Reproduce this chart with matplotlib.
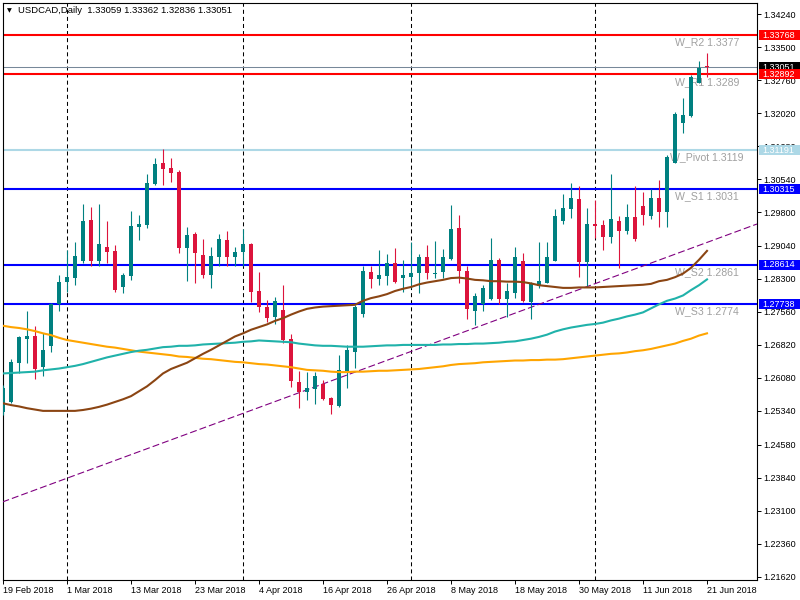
import matplotlib
matplotlib.use('Agg')
import matplotlib.pyplot as plt
import matplotlib.transforms as mtransforms
from matplotlib.patches import Rectangle
import numpy as np
import pandas as pd

plt.rcParams['font.family'] = ['Liberation Sans', 'DejaVu Sans']
plt.rcParams['lines.scale_dashes'] = False

# ---------------- data ----------------
chart_title = "USDCAD,Daily  1.33059 1.33362 1.32836 1.33051"
start_date = '2018-02-19'

opens = [1.2532, 1.2555, 1.2642, 1.2696, 1.2702, 1.2633, 1.2680, 1.2773, 1.2824, 1.2833,
         1.2870, 1.2962, 1.2870, 1.2902, 1.2893, 1.2813, 1.2837, 1.2947, 1.2952, 1.3044,
         1.3090, 1.3079, 1.3070, 1.2900, 1.2931, 1.2884, 1.2840, 1.2880, 1.2917, 1.2879,
         1.2891, 1.2908, 1.2804, 1.2767, 1.2744, 1.2760, 1.2695, 1.2599, 1.2577, 1.2582,
         1.2594, 1.2563, 1.2546, 1.2624, 1.2667, 1.2751, 1.2846, 1.2831, 1.2837, 1.2865,
         1.2833, 1.2835, 1.2843, 1.2879, 1.2841, 1.2845, 1.2875, 1.2944, 1.2849, 1.2759,
         1.2774, 1.2785, 1.2873, 1.2786, 1.2799, 1.2870, 1.2779, 1.2815, 1.2822, 1.2871,
         1.2959, 1.2987, 1.3009, 1.2869, 1.2953, 1.2951, 1.2925, 1.2960, 1.2938, 1.2970,
         1.2994, 1.2971, 1.3011, 1.2981, 1.3091, 1.3179, 1.3196, 1.3270, 1.33059]
highs = [1.2592, 1.2650, 1.2702, 1.2758, 1.2724, 1.2709, 1.2776, 1.2839, 1.2895, 1.2913,
         1.2998, 1.2991, 1.2998, 1.2960, 1.2906, 1.2843, 1.2983, 1.2974, 1.3066, 1.3101,
         1.3122, 1.3101, 1.3075, 1.2947, 1.2935, 1.2920, 1.2902, 1.2931, 1.2938, 1.2902,
         1.2942, 1.2910, 1.2846, 1.2783, 1.2790, 1.2816, 1.2707, 1.2624, 1.2621, 1.2621,
         1.2603, 1.2566, 1.2659, 1.2682, 1.2772, 1.2858, 1.2860, 1.2895, 1.2885, 1.2899,
         1.2872, 1.2913, 1.2886, 1.2906, 1.2915, 1.2897, 1.2996, 1.2974, 1.2860, 1.2799,
         1.2817, 1.2922, 1.2876, 1.2821, 1.2902, 1.2889, 1.2824, 1.2913, 1.2913, 1.2986,
         1.3021, 1.3045, 1.3039, 1.2990, 1.3007, 1.2962, 1.3066, 1.2971, 1.2998, 1.3039,
         1.3026, 1.3032, 1.3051, 1.3108, 1.3205, 1.3237, 1.3288, 1.3319, 1.33362]
lows = [1.2525, 1.2551, 1.2620, 1.2642, 1.2606, 1.2613, 1.2665, 1.2759, 1.2801, 1.2816,
        1.2865, 1.2860, 1.2860, 1.2865, 1.2801, 1.2799, 1.2827, 1.2917, 1.2944, 1.3041,
        1.3041, 1.3048, 1.2888, 1.2825, 1.2822, 1.2833, 1.2810, 1.2860, 1.2860, 1.2858,
        1.2858, 1.2779, 1.2755, 1.2734, 1.2729, 1.2686, 1.2588, 1.2541, 1.2558, 1.2549,
        1.2558, 1.2526, 1.2543, 1.2585, 1.2631, 1.2744, 1.2810, 1.2816, 1.2816, 1.2822,
        1.2801, 1.2809, 1.2799, 1.2831, 1.2833, 1.2833, 1.2873, 1.2822, 1.2740, 1.2727,
        1.2757, 1.2783, 1.2774, 1.2745, 1.2788, 1.2779, 1.2740, 1.2809, 1.2821, 1.2870,
        1.2953, 1.2966, 1.2834, 1.2814, 1.2921, 1.2895, 1.2911, 1.2854, 1.2931, 1.2915,
        1.2951, 1.2965, 1.2947, 1.2947, 1.3091, 1.3157, 1.3194, 1.3269, 1.32836]
closes = [1.2585, 1.2643, 1.2700, 1.2702, 1.2628, 1.2671, 1.2774, 1.2823, 1.2834, 1.2882,
          1.2960, 1.2870, 1.2908, 1.2891, 1.2805, 1.2839, 1.2949, 1.2953, 1.3045, 1.3088,
          1.3077, 1.3068, 1.2900, 1.2929, 1.2888, 1.2840, 1.2882, 1.2920, 1.2879, 1.2891,
          1.2908, 1.2801, 1.2766, 1.2742, 1.2781, 1.2693, 1.2600, 1.2576, 1.2586, 1.2612,
          1.2561, 1.2548, 1.2626, 1.2671, 1.2766, 1.2849, 1.2829, 1.2838, 1.2865, 1.2824,
          1.2838, 1.2843, 1.2879, 1.2843, 1.2844, 1.2879, 1.2942, 1.2849, 1.2763, 1.2792,
          1.2810, 1.2873, 1.2786, 1.2803, 1.2879, 1.2781, 1.2819, 1.2825, 1.2879, 1.2971,
          1.2990, 1.3012, 1.2869, 1.2953, 1.2949, 1.2925, 1.2965, 1.2938, 1.2970, 1.2919,
          1.2974, 1.3012, 1.2981, 1.3103, 1.3200, 1.3198, 1.3284, 1.3303, 1.33051]

ma_brown = [1.2551, 1.2547, 1.2544, 1.2540, 1.2537, 1.2534, 1.2534, 1.2534, 1.2534, 1.2534,
            1.2536, 1.2539, 1.2543, 1.2548, 1.2554, 1.2560, 1.2567, 1.2578, 1.2589, 1.2603,
            1.2618, 1.2628, 1.2635, 1.2642, 1.2652, 1.2662, 1.2671, 1.2681, 1.2691, 1.2701,
            1.2708, 1.2716, 1.2722, 1.2728, 1.2736, 1.2742, 1.2750, 1.2757, 1.2763, 1.2766,
            1.2768, 1.2769, 1.2770, 1.2771, 1.2772, 1.2781, 1.2787, 1.2791, 1.2796, 1.2803,
            1.2808, 1.2812, 1.2818, 1.2822, 1.2825, 1.2828, 1.2832, 1.2833, 1.2831, 1.2828,
            1.2827, 1.2825, 1.2825, 1.2824, 1.2824, 1.2823, 1.2820, 1.2816, 1.2814, 1.2812,
            1.2810, 1.2810, 1.2811, 1.2811, 1.2811, 1.2812, 1.2813, 1.2814, 1.2815, 1.2816,
            1.2817, 1.2819, 1.2825, 1.2828, 1.2834, 1.2842, 1.2855, 1.2873, 1.2893]
ma_teal = [1.2618, 1.2619, 1.2620, 1.2621, 1.2622, 1.2625, 1.2627, 1.2629, 1.2632, 1.2635,
           1.2639, 1.2644, 1.2649, 1.2654, 1.2658, 1.2662, 1.2666, 1.2669, 1.2671, 1.2674,
           1.2677, 1.2678, 1.2680, 1.2680, 1.2681, 1.2683, 1.2684, 1.2685, 1.2686, 1.2687,
           1.2689, 1.2690, 1.2692, 1.2691, 1.2690, 1.2689, 1.2688, 1.2685, 1.2683, 1.2681,
           1.2680, 1.2680, 1.2679, 1.2678, 1.2678, 1.2678, 1.2679, 1.2680, 1.2681, 1.2681,
           1.2682, 1.2682, 1.2682, 1.2682, 1.2682, 1.2683, 1.2683, 1.2684, 1.2684, 1.2685,
           1.2685, 1.2686, 1.2687, 1.2689, 1.2690, 1.2693, 1.2696, 1.2700, 1.2705, 1.2712,
           1.2717, 1.2721, 1.2724, 1.2727, 1.2729, 1.2732, 1.2737, 1.2741, 1.2746, 1.2750,
           1.2755, 1.2764, 1.2773, 1.2781, 1.2786, 1.2793, 1.2805, 1.2816, 1.2829]
ma_orange = [1.2725, 1.2722, 1.2720, 1.2717, 1.2713, 1.2708, 1.2704, 1.2698, 1.2693, 1.2690,
             1.2687, 1.2684, 1.2681, 1.2678, 1.2676, 1.2673, 1.2670, 1.2667, 1.2665, 1.2663,
             1.2661, 1.2659, 1.2656, 1.2655, 1.2653, 1.2651, 1.2650, 1.2648, 1.2646, 1.2644,
             1.2643, 1.2641, 1.2639, 1.2638, 1.2636, 1.2634, 1.2632, 1.2629, 1.2626, 1.2625,
             1.2624, 1.2622, 1.2621, 1.2621, 1.2622, 1.2622, 1.2623, 1.2624, 1.2624, 1.2625,
             1.2626, 1.2627, 1.2628, 1.2630, 1.2632, 1.2634, 1.2637, 1.2639, 1.2640, 1.2641,
             1.2643, 1.2644, 1.2645, 1.2646, 1.2647, 1.2647, 1.2648, 1.2648, 1.2649, 1.2649,
             1.2650, 1.2652, 1.2654, 1.2656, 1.2658, 1.2660, 1.2662, 1.2663, 1.2665, 1.2668,
             1.2670, 1.2673, 1.2677, 1.2681, 1.2685, 1.2691, 1.2696, 1.2703, 1.2708]

trend_bars = [0, 94.2]
trend_prices = [1.2330, 1.2953]

level_labels = ['W_R2 1.3377', 'W_R1 1.3289', 'W_Pivot 1.3119', 'W_S1 1.3031', 'W_S2 1.2861', 'W_S3 1.2774']
level_values = [1.33768, 1.32892, 1.31191, 1.30315, 1.28614, 1.27738]
level_colors = ['#FF0000', '#FF0000', '#ADD8E6', '#0000FF', '#0000FF', '#0000FF']
bid_price = 1.33051

ytick_values = [1.34240, 1.33500, 1.32760, 1.32020, 1.31280, 1.30540, 1.29800, 1.29040, 1.28300,
                1.27560, 1.26820, 1.26080, 1.25340, 1.24580, 1.23840, 1.23100, 1.22360, 1.21620]

# ---------------- figure ----------------
W, H = 800, 600
fig = plt.figure(figsize=(W / 100, H / 100), dpi=100)
fig.patch.set_facecolor('white')
ax_l, ax_r, ax_t, ax_b = 2.5, 757.0, 2.5, 579.5
ax = fig.add_axes([ax_l / W, (H - ax_b) / H, (ax_r - ax_l) / W, (ax_b - ax_t) / H])
ax.set_facecolor('white')

n = len(opens)
x = np.arange(n)
dates = pd.bdate_range(start_date, periods=n)

ax.set_xlim(-0.0625, 94.25)
ax.set_ylim(1.21556, 1.34504)
px = (1.34504 - 1.21556) / (ax_b - ax_t)  # price per pixel

# month separators
month_starts = [i for i in range(1, n) if dates[i].month != dates[i - 1].month]
for i in month_starts:
    ax.axvline(i, color='black', lw=0.75, dashes=(2.9, 2.2), zorder=1)

# pivot levels
for lab, val, col in zip(level_labels, level_values, level_colors):
    ax.axhline(val, color=col, lw=1.5, zorder=2)
ax.axhline(bid_price, color='#778899', lw=0.75, zorder=2)

lab_off = mtransforms.offset_copy(ax.transData, fig=fig, x=0, y=-7.3, units='dots')
for lab, val in zip(level_labels, level_values):
    xpos = 83.4 if 'Pivot' in lab else 84.0
    ax.text(xpos, val, lab, transform=lab_off, fontsize=7.6, color='#A0A0A0',
            ha='left', va='center', zorder=2.5)

# trendline
ax.axline((trend_bars[0], trend_prices[0]), (trend_bars[1], trend_prices[1]),
          color='#800080', lw=0.8, dashes=(5.0, 2.2), zorder=3)

# candles
o = np.array(opens); h = np.array(highs); l = np.array(lows); c = np.array(closes)
up = c >= o
colors = np.where(up, '#008080', '#DC143C')
ax.vlines(x, l, h, colors=colors, lw=0.8, zorder=4)
body_low = np.minimum(o, c)
body_h = np.maximum(np.abs(c - o), px * 1.0)
ax.bar(x, body_h, bottom=body_low, width=0.62, color=colors, linewidth=0, zorder=4.2)

# moving averages
ax.plot(x, ma_orange, color='#FFA500', lw=1.5, zorder=5)
ax.plot(x, ma_teal, color='#20B2AA', lw=1.5, zorder=5)
ax.plot(x, ma_brown, color='#8B4513', lw=1.5, zorder=5)

# axes styling
for s in ax.spines.values():
    s.set_color('black')
    s.set_linewidth(0.8)
ax.yaxis.tick_right()
ax.set_yticks(ytick_values)
ax.set_yticklabels([f"{v:.5f}" for v in ytick_values])
ax.tick_params(axis='y', direction='out', length=2.9, width=0.7, pad=1.8, labelsize=6.5,
               colors='black')
xt = list(range(0, n, 8))
ax.set_xticks(xt)
ax.set_xticklabels([f"{dates[i].day} {dates[i]:%b %Y}" for i in xt])
ax.tick_params(axis='x', direction='out', length=2.9, width=0.7, pad=1.5, labelsize=6.5,
               colors='black')
for t in ax.get_xticklabels():
    t.set_ha('left')

# right-side price boxes
btrans = mtransforms.blended_transform_factory(fig.transFigure, ax.transData)
box_h = 10 * px
box_items = [(1.33768, '#FF0000'), (bid_price, '#000000'), (1.32892, '#FF0000'),
             (1.31191, '#ADD8E6'), (1.30315, '#0000FF'), (1.28614, '#0000FF'),
             (1.27738, '#0000FF')]
zb = 10
for val, col in box_items:
    rect = Rectangle((759 / W, val - box_h / 2), 41 / W, box_h, transform=btrans,
                     facecolor=col, edgecolor='none', clip_on=False, zorder=zb)
    ax.add_patch(rect)
    ax.text(762.5 / W, val, f"{val:.5f}", transform=btrans, color='white', fontsize=6.5,
            ha='left', va='center', clip_on=False, zorder=zb + 0.5)
    zb += 1

# title
fig.text(6.5 / W, 1 - 10.5 / H, '\u25BC', fontsize=4.5, family='DejaVu Sans',
         ha='left', va='center', color='black')
fig.text(18 / W, 1 - 10.7 / H, chart_title, fontsize=6.8, ha='left', va='center', color='black')

fig.savefig('out.png', dpi=100, facecolor='white')
